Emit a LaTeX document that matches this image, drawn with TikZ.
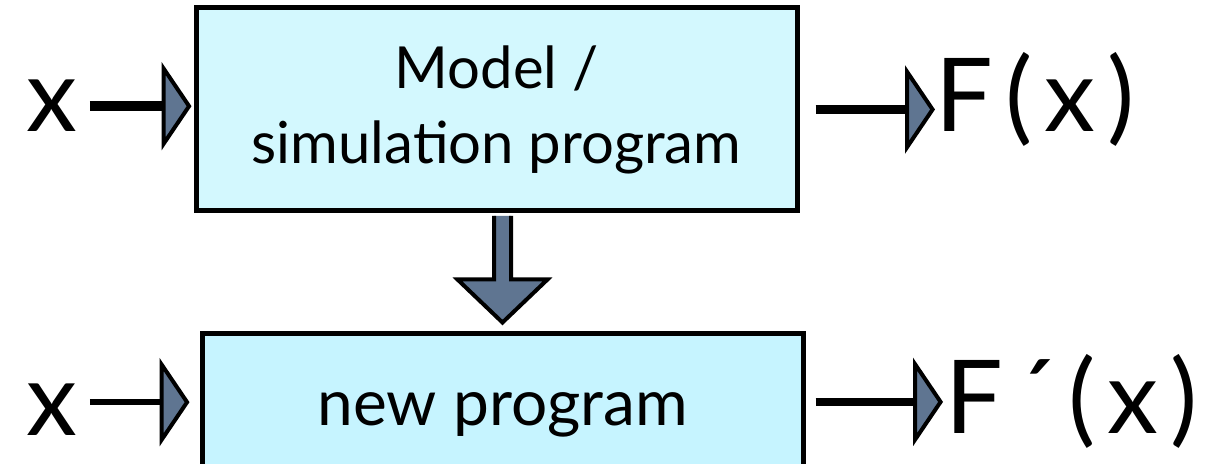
\documentclass[tikz,border=0pt]{standalone}
\usepackage{fontspec}
\setmainfont{Lato}
\newfontfamily\labelfont[LetterSpace=12]{Lato}
\usetikzlibrary{arrows.meta, positioning, calc}
\definecolor{boxtop}{HTML}{D3F8FE}
\definecolor{boxbottom}{HTML}{C6F4FF}
\definecolor{tipfill}{HTML}{5F7591}

\begin{document}
\begin{tikzpicture}[x=1pt, y=1pt,
    block/.style={rectangle, draw=black, line width=2.5pt, fill=#1,
                  minimum width=300.5pt, align=center,
                  font=\fontsize{29}{37.5}\selectfont},
    lbl/.style={inner sep=0pt, font=\labelfont\fontsize{51}{55}\selectfont},
    flow/.style={line width=#1,
                 -{Triangle[line width=2pt, length=15pt, width=44pt, fill=tipfill]}},
]
\useasboundingbox (0,0) rectangle (607.5,232);
\node[block=boxtop, minimum height=101.5pt]    (model)   at (248.25,177.25) {Model /\\simulation program};
\node[block=boxbottom, minimum height=81pt, font=\fontsize{32}{37.5}\selectfont]
                                               (newprog) at (251.25,24.5)   {new program};

\node[lbl, anchor=base]      (xa) at (26,166)    {x};
\node[lbl, anchor=base west] (fx) at (467.5,166) {F(x)};
\node[lbl, anchor=base]      (xb) at (26,14)     {x};
\node[lbl, anchor=base west] (fpx) at (472.5,15) {F´(x)};

% input / output arrows
\draw[flow=5pt, shorten <=6pt, shorten >=1pt] (xa.east) -- (xa.east -| model.west);
\draw[flow=4.5pt, shorten <=8pt] (model.east) -- (model.east -| fx.west);
\draw[flow=3pt, shorten <=6pt, shorten >=5pt] ([yshift=4pt]xb.east) -- ([yshift=4pt]xb.east -| newprog.west);
\draw[flow=4pt, shorten <=5pt, shorten >=1pt] (newprog.east |- fpx.east) -- (fpx.west);

% derivation arrow
\coordinate (dtop) at ($(model.south -| newprog.north)+(0,-1.25)$);
\coordinate (dtip) at ($(newprog.north)+(0,4.5)$);
\draw[line width=2pt, fill=tipfill, line join=miter]
    ($(dtop)+(-4.25,0)$) -- ($(dtip)+(-4.25,21.5)$) -- ($(dtip)+(-22.5,21.5)$) -- (dtip)
    -- ($(dtip)+(22.5,21.5)$) -- ($(dtip)+(4.25,21.5)$) -- ($(dtop)+(4.25,0)$);
\end{tikzpicture}
\end{document}
